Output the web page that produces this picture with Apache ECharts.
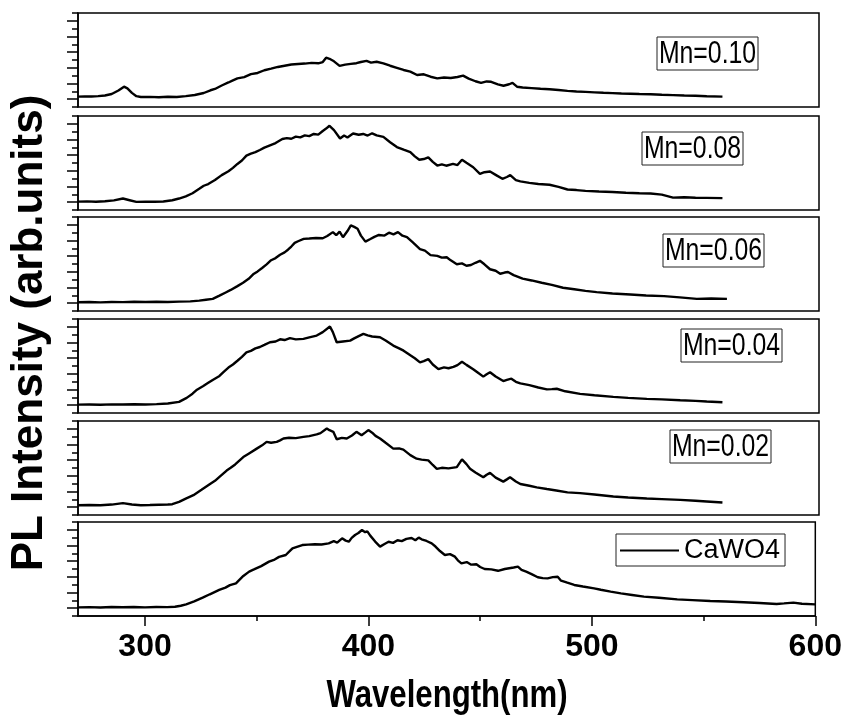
<!DOCTYPE html>
<html>
<head>
<meta charset="utf-8">
<script src="https://cdn.jsdelivr.net/npm/echarts@6/dist/echarts.min.js"></script>
<style>html,body{margin:0;padding:0;background:#fff;}#c{width:845px;height:722px;}</style>
</head>
<body>
<div id="c"></div>
<script>
// ---- data (wavelength nm, relative intensity in % of panel height) ----
const panelNames = ['Mn=0.10', 'Mn=0.08', 'Mn=0.06', 'Mn=0.04', 'Mn=0.02', 'CaWO4'];
const xTickLabels = [300, 400, 500, 600];
const xMinorTicks = [350, 450, 550];

const mn010 = [[270,11],[273,11.3],[276,11.1],[279,11.6],[282,12.2],[285,13.8],[288,17.5],[290.5,21.6],[292,19.8],[294,15],[296,11.5],[298,10.6],[302,10.8],[306,10.4],[310,10.9],[314,10.7],[318,11.6],[322,12.8],[326,14.9],[329,17.8],[331,19.2],[334,22.9],[337,26.1],[339,28.4],[341,30.5],[344,31.8],[347,34.9],[350,36.2],[353,39.1],[356,40.8],[359,42.6],[362,43.9],[365,45.2],[368,45.8],[371,46.2],[374,46.9],[377,46.5],[379,47.8],[380.5,52.5],[382,51.3],[384,48.6],[386.5,43.8],[389,45.1],[391.5,45.9],[394,46.6],[396,47.9],[398.5,49],[400.5,47.2],[403,48.1],[406,46.4],[409,43.9],[412,41.7],[415,39.4],[418,37.6],[421,34],[424,34.8],[427,32.2],[430,30.5],[433,31.4],[436,30.9],[439,31.9],[441.5,33.4],[444,30.2],[447,27.4],[449.5,25.6],[452,27.2],[454,26.8],[457,24.1],[459.5,22.6],[462,24.2],[463.5,25.6],[465.5,21.6],[468,20.8],[472,20.1],[476,19.4],[480,18.9],[484,18.1],[488,17.2],[492,16.5],[496,16.1],[500,15.6],[504,15.1],[508,14.8],[512,14.4],[516,14.1],[520,13.8],[525,13.5],[530,13],[535,12.6],[540,12.2],[545,11.9],[550,11.4],[557,11]];

const mn008 = [[270,8.9],[274,9.2],[278,8.8],[282,9.3],[286,10.2],[290,12.2],[293,10.4],[296,8.6],[300,8.7],[304,8.8],[308,9.1],[312,10.4],[315,12.2],[318,14.5],[321,17.8],[324,22.5],[326,25.8],[328,27.6],[331,31.9],[334,37.1],[337,41.2],[339,44.8],[341,49],[343,52.6],[345,57.9],[347,60],[349,61.5],[351,63.8],[353,66.4],[355.5,68.8],[358,71.2],[361,75.5],[363,76.4],[365,75.8],[367,78.1],[369,77.2],[371,79.4],[373,78.6],[375,80.9],[377,80.2],[379,84.1],[380.5,86.6],[382,89.6],[384,85],[386.7,76],[388.5,79.2],[390,77.1],[392.5,81.4],[395,80.1],[397,80.9],[399,79.2],[401,81.6],[403,79.4],[406,77.8],[409,72.1],[412,67],[415,64.2],[418,61.6],[420,57.1],[422,53.4],[424,54.2],[426,56],[428,51.2],[430,47.3],[432,48.6],[434,47.1],[437,49],[439,47.8],[441,53.4],[443,50.2],[446,45.5],[449,38.4],[451,40.2],[453.5,40.9],[456,37.4],[459,33.2],[461,35.1],[462.5,37.1],[465,31.8],[467,30.4],[471,28.9],[475,27.6],[480,26.9],[484,24.6],[488,21.8],[492,21.2],[496,20.4],[502,19.7],[508,19.1],[514,18.4],[520,17.8],[525,17.5],[530,16.4],[535,13.2],[540,13.6],[545,13.1],[550,12.9],[557,12.6]];

const mn006 = [[270,9.3],[275,9.5],[280,9.2],[285,9.6],[290,9.4],[295,9.8],[300,9.5],[305,9.9],[310,9.6],[315,10],[320,10.2],[324,11],[327,12],[330,12.9],[333,16.4],[336,20],[338,22.4],[341,26.5],[343.5,30],[346,34.2],[348,39],[350,42.1],[352,45.8],[354,49.6],[356,54],[358,56.3],[360,59.8],[362,62.4],[363.5,65.2],[365,68.6],[366.5,72.5],[368,74.2],[370.5,76.7],[373,77.1],[376,77.6],[379,77.4],[381,79.8],[383.5,83.9],[385,80.6],[386.5,84.5],[388,78.5],[390,85.1],[391.5,91],[393,89.5],[394.5,87.5],[396,80.2],[398,73.8],[400,76.3],[402,78.9],[404,80.9],[406.5,80.2],[408.5,83.3],[410.5,81.6],[412.5,83.9],[414.5,80.1],[416.5,78.5],[419,73.2],[422.3,65.9],[424.5,64.2],[427,59.5],[430,58.6],[432,56.8],[434.2,57.2],[436,53.9],[438.7,49.8],[441,50.6],[443,48.1],[445,48.9],[447,51.3],[449,53.4],[451,49.7],[453.5,44.4],[456,42.8],[458,39.6],[460,40.9],[461.5,41.5],[464,38.2],[468,34.4],[472,32.5],[476.5,30.1],[481,27.8],[486,24.7],[491,23.1],[496,21.4],[501,20.1],[508,18.6],[516,17.5],[523,16.5],[531,15.8],[538,14.5],[545.6,12.9],[552,13.3],[559,12.9]];

const mn004 = [[270,8.9],[275,9.1],[280,8.8],[285,9.2],[290,9.0],[295,9.3],[300,9.1],[305,9.4],[310,10.1],[315,11.8],[318.4,16.1],[321,20.5],[323,24.8],[325.8,28.7],[328,32.1],[330,35.2],[333,39.4],[335,44.1],[337,48.3],[339,51.6],[341,55.6],[343,59.8],[345,64.5],[347,66.1],[349,68.7],[351,70.2],[353,72.4],[355.5,75.3],[358,76.1],[360,78.4],[362,77.6],[364.4,79.6],[367,78.3],[370.4,78.9],[373,80.5],[376.3,82.4],[379,86],[382.2,92],[383.5,86],[385.2,75.3],[388,76.1],[391.2,77],[393,79.4],[395,81.8],[397.1,84.2],[399,82.5],[401,81.4],[404.5,80.6],[407,77.1],[410.4,71.7],[413,68.8],[415,66.3],[418,61.4],[420,58.2],[422.3,53.8],[424,55.1],[426,57.3],[428,51.6],[430.5,46.6],[433,48.5],[435,47.6],[437.2,49],[439,50.9],[441,54.5],[443,51.2],[446,46.6],[448,43.1],[450.5,38.7],[452,41.2],[453.5,43.4],[456,38.8],[459.4,34],[461,35.3],[463,36.5],[465,33.2],[467,31.5],[471,29.6],[475,27.1],[478.8,25.1],[481,25.4],[483.2,25.8],[487,23.1],[493.6,20.4],[500,18.9],[508.4,17.2],[515,16.1],[523.3,15],[530,14.5],[538.2,13.6],[545,12.9],[550,12.3],[557,11.5]];

const mn002 = [[270,10.4],[275,10.6],[280,10.3],[285,11.1],[290,12.6],[294,11.2],[298,10.4],[302,10.6],[306,10.9],[310,11.2],[312,11.5],[315,14],[318,17.5],[321.4,21.1],[325,26.8],[328.8,33],[331,36.4],[333,40.6],[336.2,47.3],[338,50.2],[340,53.8],[343.6,61.6],[346,65.2],[349.6,70.6],[352,74.1],[354,77.8],[356,76.9],[358.5,77.8],[360,79.4],[361.5,81.4],[364,82.2],[367,81.8],[370.4,83.1],[373,83.9],[376.3,85.7],[378,87.1],[380.8,92.1],[382,90.2],[383.7,88.5],[385.2,80.6],[387.5,82.1],[389.7,81.4],[392,84.6],[394,88.5],[396.3,84.9],[398,87.9],[399.3,90.3],[401,87.6],[402.5,84.2],[404.5,81.4],[407,76.8],[410.4,70.6],[413,70.8],[414.9,69.5],[418,63.7],[420.8,59.9],[423,58.9],[426,58.1],[428,53.2],[429.8,49.1],[432,50.2],[435,49.6],[438.7,50.9],[441,59.1],[443,54.1],[444.6,49.1],[447,45.2],[450.5,40.1],[452,42.8],[453.5,44.8],[456,39.8],[459.4,35.5],[461,37.9],[462.4,40.1],[465,35.6],[467,33],[471,31.1],[474.3,29.4],[478.8,27.6],[483,26.1],[488,24.1],[493.6,23.3],[500,21.8],[508.4,19.7],[515,18.6],[523.3,17.5],[530,16.9],[538.2,16.1],[545,15.2],[550,14.4],[557,13.3]];

const cawo4 = [[270,9.2],[275,9.4],[280,9.1],[285,9.6],[290,9.3],[295,9.5],[300,9.2],[305,9.6],[310,9.4],[313.4,9.8],[316,10.9],[318.4,12.4],[322,15.6],[325.8,19.5],[329,23.1],[333.2,27.7],[336,30.2],[338,32.8],[340.7,34.8],[342,37.9],[344,42.6],[346.6,47.2],[349,49.8],[352,53.1],[355.5,57.8],[358,60.1],[360,62.9],[363,64.9],[364.5,68.4],[366,72],[368,73.6],[370.4,75.5],[373,75.9],[376,76.3],[379,76.1],[382.2,77.3],[384.5,79.6],[386,78.1],[388.2,82.6],[389.8,80.2],[391.2,79],[392.5,83.1],[394,86.2],[395.5,88.3],[397.1,91.5],[398.5,89.2],[399.5,90.1],[400.8,85.5],[403,79.2],[405.2,73.8],[407,76.4],[409,79],[411,77.8],[413,80.6],[414.9,79.6],[417,82.1],[419.3,83],[421,80.6],[422.5,83.4],[423.8,81.6],[426,79.8],[428.3,77.3],[430,73.9],[432,69.1],[434.2,64.9],[436.5,65.8],[438.7,63.1],[440,59.2],[441.6,56],[444,57.4],[446,54.6],[448.3,55],[450,52.1],[452,50],[455,49.6],[458,48.1],[461,50],[463,50.8],[465,51.6],[466.9,52.5],[468.5,49.1],[470.6,47.2],[473,44.6],[475.8,41.2],[478,40.3],[480.2,40],[482.5,41.3],[484.7,41.8],[486.2,37.6],[489,35.4],[492.1,33],[496,31.4],[501,29.4],[504,27.9],[508.4,25.9],[513,24.1],[518,22.4],[523.3,20.6],[530,19.4],[538.2,17.7],[545,16.9],[553,16],[560,15.4],[567.9,14.6],[575,13.8],[582.7,12.8],[586,13.4],[590.2,14.2],[594,13.1],[600,12.4]];

const seriesData = [mn010, mn008, mn006, mn004, mn002, cawo4];

// ---- layout ----
const SANS = "'Liberation Sans',Arial,sans-serif";
const panelTops = [13, 116, 217, 319, 421, 522];
const panelH = 94;
const labelBoxes = [[657, 37], [642, 132], [663, 234], [681, 329], [670, 430]];
const minorY = [0, 100/6, 200/6, 300/6, 400/6, 500/6, 100];
const majorY = [100/12, 300/12, 500/12, 700/12, 900/12, 1100/12];

const grids = [], xAxes = [], yAxes = [], series = [], graphics = [];
for (let i = 0; i < 6; i++) {
  grids.push({left: 78, right: 26, top: panelTops[i], height: panelH, show: true,
    borderColor: '#000', borderWidth: 1.5, backgroundColor: 'transparent'});
  const last = i === 5;
  xAxes.push({type: 'value', gridIndex: i, min: 270, max: 600, position: 'bottom',
    axisLine: {show: last, lineStyle: {color: '#000', width: 1.5}},
    axisTick: {show: last, customValues: xTickLabels, length: 10, lineStyle: {color: '#000', width: 1.5}},
    axisLabel: {show: last, customValues: xTickLabels, margin: 15, color: '#000',
      fontFamily: SANS, fontWeight: 'bold', fontSize: 32},
    splitLine: {show: false}});
  yAxes.push({type: 'value', gridIndex: i, min: 0, max: 100, position: 'left',
    axisLine: {show: true, lineStyle: {color: '#000', width: 1.5}},
    axisTick: {show: true, customValues: minorY, length: 6, lineStyle: {color: '#000', width: 1.5}},
    axisLabel: {show: false}, splitLine: {show: false}});
  yAxes.push({type: 'value', gridIndex: i, min: 0, max: 100, position: 'left',
    axisLine: {show: false},
    axisTick: {show: true, customValues: majorY, length: 11, lineStyle: {color: '#000', width: 1.5}},
    axisLabel: {show: false}, splitLine: {show: false}});
  series.push({type: 'line', name: panelNames[i], xAxisIndex: i, yAxisIndex: 2 * i,
    data: seriesData[i], symbol: 'none', showSymbol: false,
    lineStyle: {color: '#000', width: 2.4}, itemStyle: {color: '#000'}, animation: false});
  if (!last) {
    graphics.push({type: 'group', x: labelBoxes[i][0], y: labelBoxes[i][1], children: [
      {type: 'rect', shape: {x: 0, y: 0, width: 101, height: 33},
        style: {fill: 'rgba(0,0,0,0)', stroke: '#222', lineWidth: 1}},
      {type: 'text', x: 50.5, y: 17.5, scaleX: 0.8,
        style: {text: panelNames[i], font: "31px " + SANS, fill: '#000',
          textAlign: 'center', textVerticalAlign: 'middle'}}
    ]});
  }
}
// minor x ticks on bottom panel
xAxes.push({type: 'value', gridIndex: 5, min: 270, max: 600, position: 'bottom',
  axisLine: {show: false},
  axisTick: {show: true, customValues: xMinorTicks, length: 5, lineStyle: {color: '#000', width: 1.5}},
  axisLabel: {show: false}, splitLine: {show: false}});

graphics.push({type: 'text', x: 30, y: 333, rotation: Math.PI / 2,
  style: {text: 'PL Intensity (arb.units)', font: "bold 44px " + SANS, fill: '#000',
    textAlign: 'center', textVerticalAlign: 'middle'}});
graphics.push({type: 'text', x: 447, y: 697, scaleX: 0.82,
  style: {text: 'Wavelength(nm)', font: "bold 38px " + SANS, fill: '#000',
    textAlign: 'center', textVerticalAlign: 'middle'}});

const option = {
  animation: false,
  backgroundColor: '#fff',
  grid: grids, xAxis: xAxes, yAxis: yAxes, series: series,
  legend: {data: ['CaWO4'], left: 616, top: 534, borderColor: '#222', borderWidth: 1,
    padding: [3, 5, 2, 4], itemWidth: 59, itemHeight: 2, icon: 'rect',
    textStyle: {fontFamily: SANS, fontSize: 27, color: '#000'}},
  graphic: graphics
};
const chart = echarts.init(document.getElementById('c'), null, {renderer: 'canvas'});
chart.setOption(option);
</script>
</body>
</html>
